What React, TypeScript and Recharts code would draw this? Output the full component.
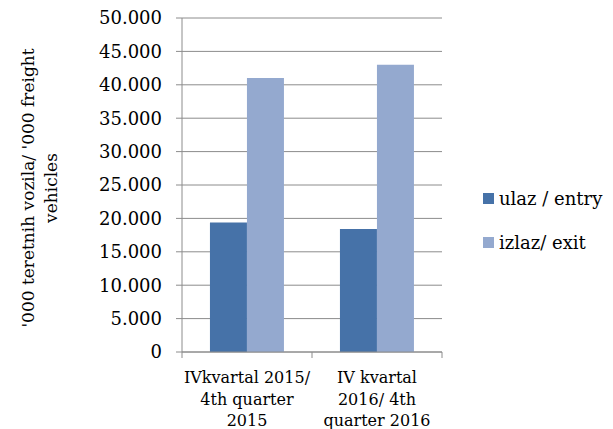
import React from "react";
import {
  BarChart,
  Bar,
  XAxis,
  YAxis,
  CartesianGrid,
  Label,
} from "recharts";

const categories = ["IVkvartal 2015/\n4th quarter\n2015", "IV kvartal\n2016/ 4th\nquarter 2016"];
const entryValues = [19400, 18400];
const exitValues = [41000, 43000];
const yTicks = [0, 5000, 10000, 15000, 20000, 25000, 30000, 35000, 40000, 45000, 50000];
const seriesNames = ["ulaz / entry", "izlaz/ exit"];
const yLabelLines = ["'000 teretnih vozila/ '000 freight", "vehicles"];

const data = categories.map((name, i) => ({
  name,
  entry: entryValues[i],
  exit: exitValues[i],
}));

const FONT = "'DejaVu Serif', serif";
const GRID = "#8c8c8c";
const DARK = "#4672a8";
const LIGHT = "#94a9cf";

const W = 613;
const H = 429;
const M = { top: 18, right: 171, bottom: 0, left: 0 };
const Y_WIDTH = 182;
const X_HEIGHT = 77;

const fmt = (v: number) => String(v).replace(/\B(?=(\d{3})+(?!\d))/g, ".");

function XTick(props: any) {
  const { x, y, payload, index } = props;
  const band = (W - M.left - M.right - Y_WIDTH) / categories.length;
  const lines = String(payload.value).split("\n");
  const ax = y - 8;
  return (
    <g>
      <line x1={x - band / 2} x2={x - band / 2} y1={ax} y2={ax + 6} stroke={GRID} />
      {index === categories.length - 1 && (
        <line x1={x + band / 2} x2={x + band / 2} y1={ax} y2={ax + 6} stroke={GRID} />
      )}
      <text textAnchor="middle" fontFamily={FONT} fontSize={16} fill="#000">
        {lines.map((l, i) => (
          <tspan key={i} x={x} y={ax + 31 + i * 21.5}>
            {l}
          </tspan>
        ))}
      </text>
    </g>
  );
}

function YLabel(props: any) {
  const { viewBox } = props;
  const cy = viewBox.y + viewBox.height / 2 + 3;
  const xs = [28, 51];
  return (
    <g>
      {yLabelLines.map((l, i) => (
        <text
          key={i}
          x={xs[i]}
          y={cy}
          transform={`rotate(-90 ${xs[i]} ${cy})`}
          textAnchor="middle"
          dominantBaseline="central"
          fontFamily={FONT}
          fontSize={17}
          fill="#000"
        >
          {l}
        </text>
      ))}
    </g>
  );
}

function LegendBox() {
  const colors = [DARK, LIGHT];
  return (
    <div style={{ position: "absolute", left: 483, top: 187, fontFamily: FONT, fontSize: 18, color: "#000" }}>
      {seriesNames.map((n, i) => (
        <div key={n} style={{ display: "flex", alignItems: "center", height: 22, marginBottom: 22 }}>
          <span style={{ width: 11, height: 11, background: colors[i], marginRight: 5, display: "inline-block" }} />
          <span>{n}</span>
        </div>
      ))}
    </div>
  );
}

export default function App() {
  return (
    <div style={{ position: "absolute", left: 0, top: 0, width: W, height: H, background: "#fff" }}>
      <BarChart width={W} height={H} data={data} margin={M} barCategoryGap="21.5%" barGap={0}>
        <CartesianGrid horizontal vertical={false} stroke={GRID} />
        <XAxis
          dataKey="name"
          interval={0}
          axisLine={{ stroke: GRID }}
          tickLine={false}
          tick={<XTick />}
          height={X_HEIGHT}
        />
        <YAxis
          width={Y_WIDTH}
          domain={[0, 50000]}
          ticks={yTicks}
          interval={0}
          tickFormatter={fmt}
          axisLine={{ stroke: GRID }}
          tickLine={{ stroke: GRID }}
          tickSize={6}
          tickMargin={14}
          tick={{ fontFamily: FONT, fontSize: 18, fill: "#000" }}
        >
          <Label content={<YLabel />} />
        </YAxis>
        <Bar dataKey="entry" name={seriesNames[0]} fill={DARK} isAnimationActive={false} />
        <Bar dataKey="exit" name={seriesNames[1]} fill={LIGHT} isAnimationActive={false} />
      </BarChart>
      <LegendBox />
    </div>
  );
}
